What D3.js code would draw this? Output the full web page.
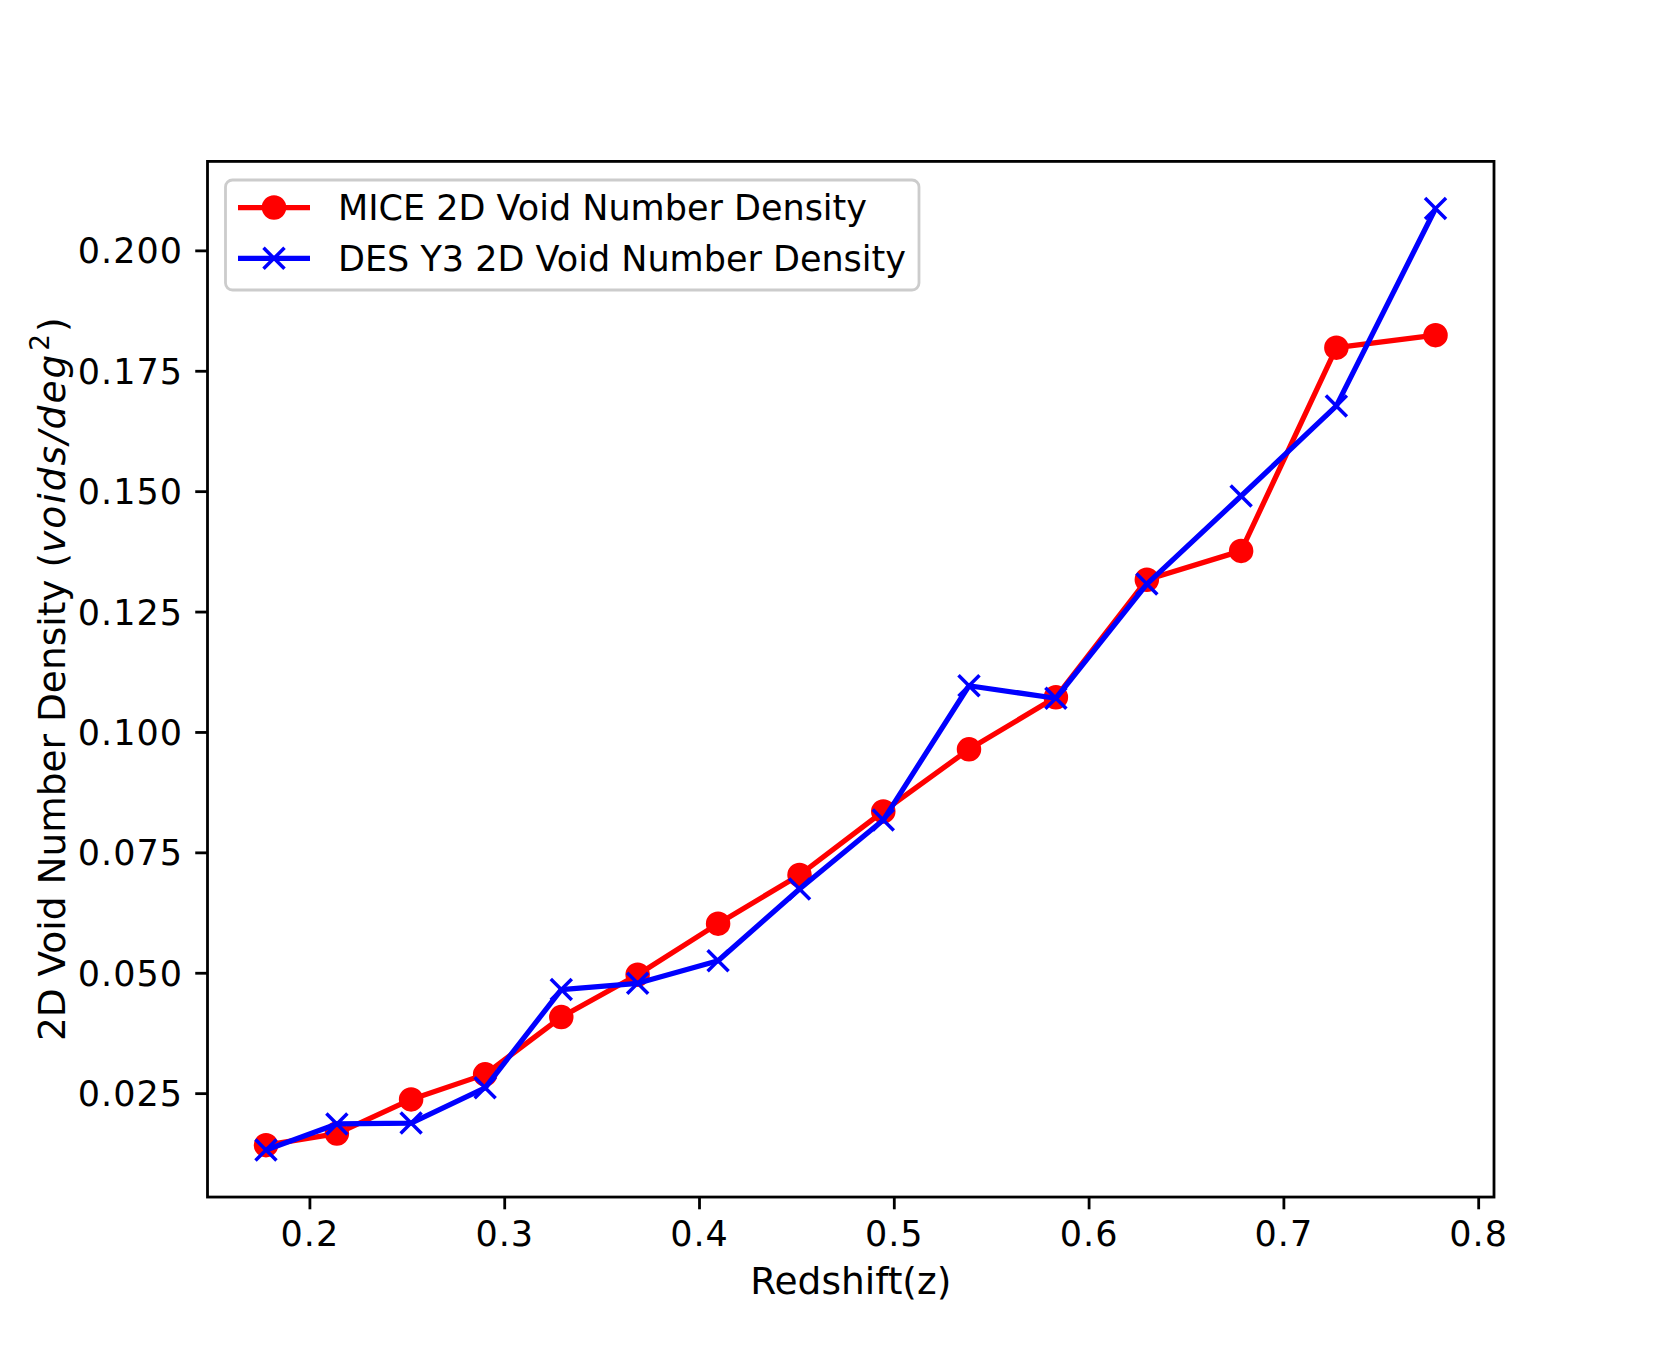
<!DOCTYPE html>
<html>
<head>
<meta charset="utf-8">
<script src="https://cdn.jsdelivr.net/npm/d3@7/dist/d3.min.js"></script>
<style>
  body { margin: 0; background: #fff; }
  svg text { font-family: "DejaVu Sans", sans-serif; fill: #000; }
</style>
</head>
<body>
<div id="chart"></div>
<script>
// redshift bins (shared by both series)
const redshift = [0.1777, 0.2141, 0.2522, 0.2902, 0.3293, 0.3685, 0.4098, 0.4516,
                  0.4946, 0.5386, 0.5832, 0.6299, 0.6783, 0.7272, 0.7781];
const miceDensity = [0.0142, 0.0166, 0.0237, 0.0289, 0.0408, 0.0496, 0.0602, 0.0703,
                     0.0835, 0.0964, 0.1072, 0.1316, 0.1376, 0.1798, 0.1824];
const desDensity = [0.0132, 0.0186, 0.0188, 0.0261, 0.0465, 0.0478, 0.0525, 0.0674,
                    0.0817, 0.1096, 0.1070, 0.1307, 0.1490, 0.1677, 0.2087];
const xTicks = [0.2, 0.3, 0.4, 0.5, 0.6, 0.7, 0.8];
const yTicks = [0.025, 0.05, 0.075, 0.1, 0.125, 0.15, 0.175, 0.2];
const seriesNames = ["MICE 2D Void Number Density", "DES Y3 2D Void Number Density"];

const W = 1660, H = 1345;
const fs = 35;               // 10pt at ~252 dpi
const labelFs = 37.5;
const pt = fs / 10;
const m = {left: 0.125 * W, right: 0.9 * W, top: 0.12 * H, bottom: 0.89 * H};

const svg = d3.select("#chart").append("svg")
  .attr("width", W).attr("height", H);

// matplotlib style 5% margins
function padded(vals) {
  const [a, b] = d3.extent(vals);
  const s = b - a;
  return [a - 0.05 * s, b + 0.05 * s];
}
const x = d3.scaleLinear().domain(padded(redshift)).range([m.left, m.right]);
const y = d3.scaleLinear().domain(padded(miceDensity.concat(desDensity))).range([m.bottom, m.top]);

// axes
const tickLen = 3.5 * pt;
const xAxis = svg.append("g")
  .attr("transform", `translate(0,${m.bottom})`)
  .call(d3.axisBottom(x).tickValues(xTicks).tickFormat(d3.format(".1f"))
    .tickSizeInner(tickLen).tickSizeOuter(0).tickPadding(3.5 * pt));
const yAxis = svg.append("g")
  .attr("transform", `translate(${m.left},0)`)
  .call(d3.axisLeft(y).tickValues(yTicks).tickFormat(d3.format(".3f"))
    .tickSizeInner(tickLen).tickSizeOuter(0).tickPadding(3.5 * pt));
[xAxis, yAxis].forEach(g => {
  g.select(".domain").remove();
  g.selectAll(".tick line").attr("stroke", "#000").attr("stroke-width", 0.8 * pt);
  g.selectAll(".tick text").attr("font-size", fs).attr("font-family", "DejaVu Sans")
    .attr("letter-spacing", 1);
});
yAxis.selectAll(".tick text").attr("dy", "0.36em");
xAxis.selectAll(".tick text").attr("dy", "0.71em");

// series
const lineGen = d3.line().x(d => x(d[0])).y(d => y(d[1]));
const miceData = redshift.map((z, i) => [z, miceDensity[i]]);
const desData = redshift.map((z, i) => [z, desDensity[i]]);

const plot = svg.append("g");
plot.append("path").datum(miceData)
  .attr("d", lineGen).attr("fill", "none")
  .attr("stroke", "#ff0000").attr("stroke-width", 1.5 * pt).attr("stroke-linejoin", "round");
plot.selectAll("circle.mice").data(miceData).enter().append("circle")
  .attr("class", "mice")
  .attr("cx", d => x(d[0])).attr("cy", d => y(d[1]))
  .attr("r", 3 * pt).attr("fill", "#ff0000")
  .attr("stroke", "#ff0000").attr("stroke-width", 1 * pt);

const xs = 3 * pt;
plot.append("path").datum(desData)
  .attr("d", lineGen).attr("fill", "none")
  .attr("stroke", "#0000ff").attr("stroke-width", 1.5 * pt).attr("stroke-linejoin", "round");
plot.selectAll("path.des").data(desData).enter().append("path")
  .attr("class", "des")
  .attr("d", d => {
    const cx = x(d[0]), cy = y(d[1]);
    return `M${cx - xs},${cy - xs}L${cx + xs},${cy + xs}M${cx - xs},${cy + xs}L${cx + xs},${cy - xs}`;
  })
  .attr("stroke", "#0000ff").attr("stroke-width", 1 * pt).attr("fill", "none");

// frame
svg.append("rect")
  .attr("x", m.left).attr("y", m.top)
  .attr("width", m.right - m.left).attr("height", m.bottom - m.top)
  .attr("fill", "none").attr("stroke", "#000").attr("stroke-width", 0.8 * pt)
  .attr("stroke-linecap", "square");

// axis labels
svg.append("text")
  .attr("x", (m.left + m.right) / 2).attr("y", 1294)
  .attr("text-anchor", "middle").attr("font-size", labelFs)
  .text("Redshift(z)");

const yl = svg.append("text")
  .attr("transform", `translate(65,${(m.top + m.bottom) / 2}) rotate(-90)`)
  .attr("text-anchor", "middle").attr("font-size", labelFs);
yl.append("tspan").text("2D Void Number Density (");
yl.append("tspan").attr("font-style", "italic").attr("letter-spacing", 2).text("voids/deg");
yl.append("tspan").attr("font-size", labelFs * 0.7).attr("dy", -0.42 * labelFs).attr("dx", 2).text("2");
yl.append("tspan").attr("dy", 0.42 * labelFs).attr("dx", 2).text(")");

// legend
const lg = svg.append("g");
lg.append("rect")
  .attr("x", 225.5).attr("y", 180).attr("width", 693.5).attr("height", 110)
  .attr("rx", 7).attr("ry", 7)
  .attr("fill", "#fff").attr("fill-opacity", 0.8)
  .attr("stroke", "#cccccc").attr("stroke-width", 0.8 * pt);
const rowsY = [207.5, 258.3];
const colors = ["#ff0000", "#0000ff"];
seriesNames.forEach((name, i) => {
  const ry = rowsY[i];
  lg.append("line")
    .attr("x1", 238).attr("x2", 310).attr("y1", ry).attr("y2", ry)
    .attr("stroke", colors[i]).attr("stroke-width", 1.5 * pt);
  if (i === 0) {
    lg.append("circle").attr("cx", 274).attr("cy", ry).attr("r", 3 * pt)
      .attr("fill", colors[i]).attr("stroke", colors[i]).attr("stroke-width", 1 * pt);
  } else {
    lg.append("path")
      .attr("d", `M${274 - xs},${ry - xs}L${274 + xs},${ry + xs}M${274 - xs},${ry + xs}L${274 + xs},${ry - xs}`)
      .attr("stroke", colors[i]).attr("stroke-width", 1 * pt);
  }
  lg.append("text")
    .attr("x", 338).attr("y", ry).attr("dy", "0.36em")
    .attr("font-size", fs).text(name);
});
</script>
</body>
</html>
